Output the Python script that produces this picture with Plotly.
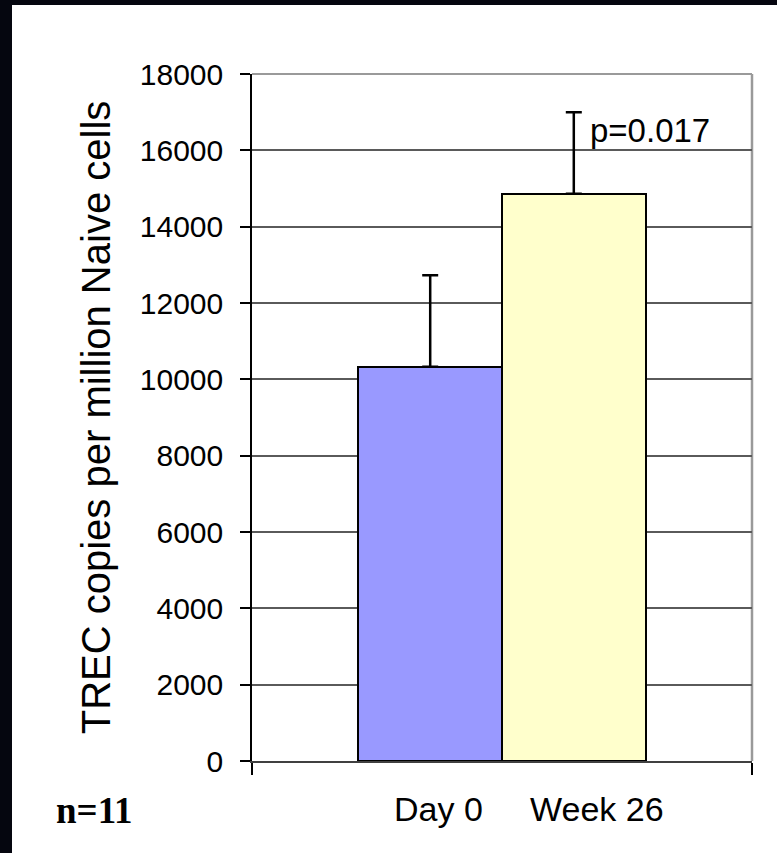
import plotly.graph_objects as go

# ---- data ----
groups = ["Day 0", "Week 26"]
positions = [0, 1]
values = [10330, 14860]
errors_up = [2400, 2140]
bar_colors = ["#9999FF", "#FFFFCC"]
y_ticks = [0, 2000, 4000, 6000, 8000, 10000, 12000, 14000, 16000, 18000]
y_tick_text = [str(v) for v in y_ticks]
p_label = "p=0.017"
n_label = "n=11"
y_title = "TREC copies per million Naive cells"

W, H = 777, 853
L, R, T, B = 252, 25, 74, 92
x_range = [-1.241, 2.241]

fig = go.Figure()
for g, xpos, v, e, c in zip(groups, positions, values, errors_up, bar_colors):
    fig.add_trace(go.Bar(
        x=[xpos], y=[v], width=1, name=g,
        marker=dict(color=c, line=dict(color="black", width=2)),
        error_y=dict(type="data", array=[e], arrayminus=[0], symmetric=False,
                     color="black", thickness=2.5, width=8),
        showlegend=False, hoverinfo="skip",
    ))

fig.update_layout(
    width=W, height=H,
    margin=dict(l=L, r=R, t=T, b=B, pad=0),
    paper_bgcolor="white", plot_bgcolor="white",
    bargap=0, barmode="overlay",
    font=dict(family="Liberation Sans, Arial, sans-serif", color="black"),
    xaxis=dict(range=x_range, showgrid=False, zeroline=False,
               showline=True, linecolor="#404040", linewidth=2,
               tickmode="array", tickvals=x_range, ticktext=["", ""],
               ticks="outside", ticklen=12, tickcolor="black", tickwidth=1.5),
    yaxis=dict(range=[0, 18000], tickmode="array", tickvals=y_ticks,
               ticktext=y_tick_text,
               showgrid=True, gridcolor="#5a5a5a", gridwidth=1.5,
               zeroline=False, showline=True, linecolor="black", linewidth=1.5,
               ticks="outside", ticklen=10, tickcolor="black", tickwidth=1.5,
               tickfont=dict(size=30), ticklabelstandoff=11,
               title=dict(text=y_title, font=dict(size=40), standoff=17)),
)

# plot-area border (top & right, light gray)
fig.add_shape(type="line", xref="paper", yref="paper", x0=0, x1=1, y0=1, y1=1,
              line=dict(color="#9a9a9a", width=2), layer="above")
fig.add_shape(type="line", xref="paper", yref="paper", x0=1, x1=1, y0=0, y1=1,
              line=dict(color="#9a9a9a", width=2.5), layer="below")

# black frame strips (top and left)
pw, ph = W - L - R, H - T - B
def px_x(px):
    return (px - L) / pw
def px_y(py):
    return (H - B - py) / ph
fig.add_shape(type="rect", xref="paper", yref="paper",
              x0=px_x(0), x1=px_x(W), y0=px_y(5), y1=px_y(0),
              fillcolor="#05060f", line=dict(width=0), layer="above")
fig.add_shape(type="rect", xref="paper", yref="paper",
              x0=px_x(0), x1=px_x(12), y0=px_y(H), y1=px_y(0),
              fillcolor="#05060f", line=dict(width=0), layer="above")

# annotations
fig.add_annotation(x=px_x(588), y=16000, xref="paper", yref="y", text=p_label,
                   showarrow=False, xanchor="left", yanchor="bottom",
                   font=dict(size=33), yshift=-1)
fig.add_annotation(x=px_x(438), y=px_y(809), xref="paper", yref="paper",
                   text=groups[0], showarrow=False, xanchor="center", yanchor="middle",
                   font=dict(size=34))
fig.add_annotation(x=px_x(597), y=px_y(809), xref="paper", yref="paper",
                   text=groups[1], showarrow=False, xanchor="center", yanchor="middle",
                   font=dict(size=34))
fig.add_annotation(x=px_x(94), y=px_y(810), xref="paper", yref="paper",
                   text="<b>" + n_label + "</b>", showarrow=False,
                   xanchor="center", yanchor="middle",
                   font=dict(size=37, family="Liberation Serif, Times New Roman, serif"))

fig.write_html(
    "out.html",
    config={"displayModeBar": False},
    post_script="document.body.style.margin='0px';document.body.style.overflow='hidden';",
)
